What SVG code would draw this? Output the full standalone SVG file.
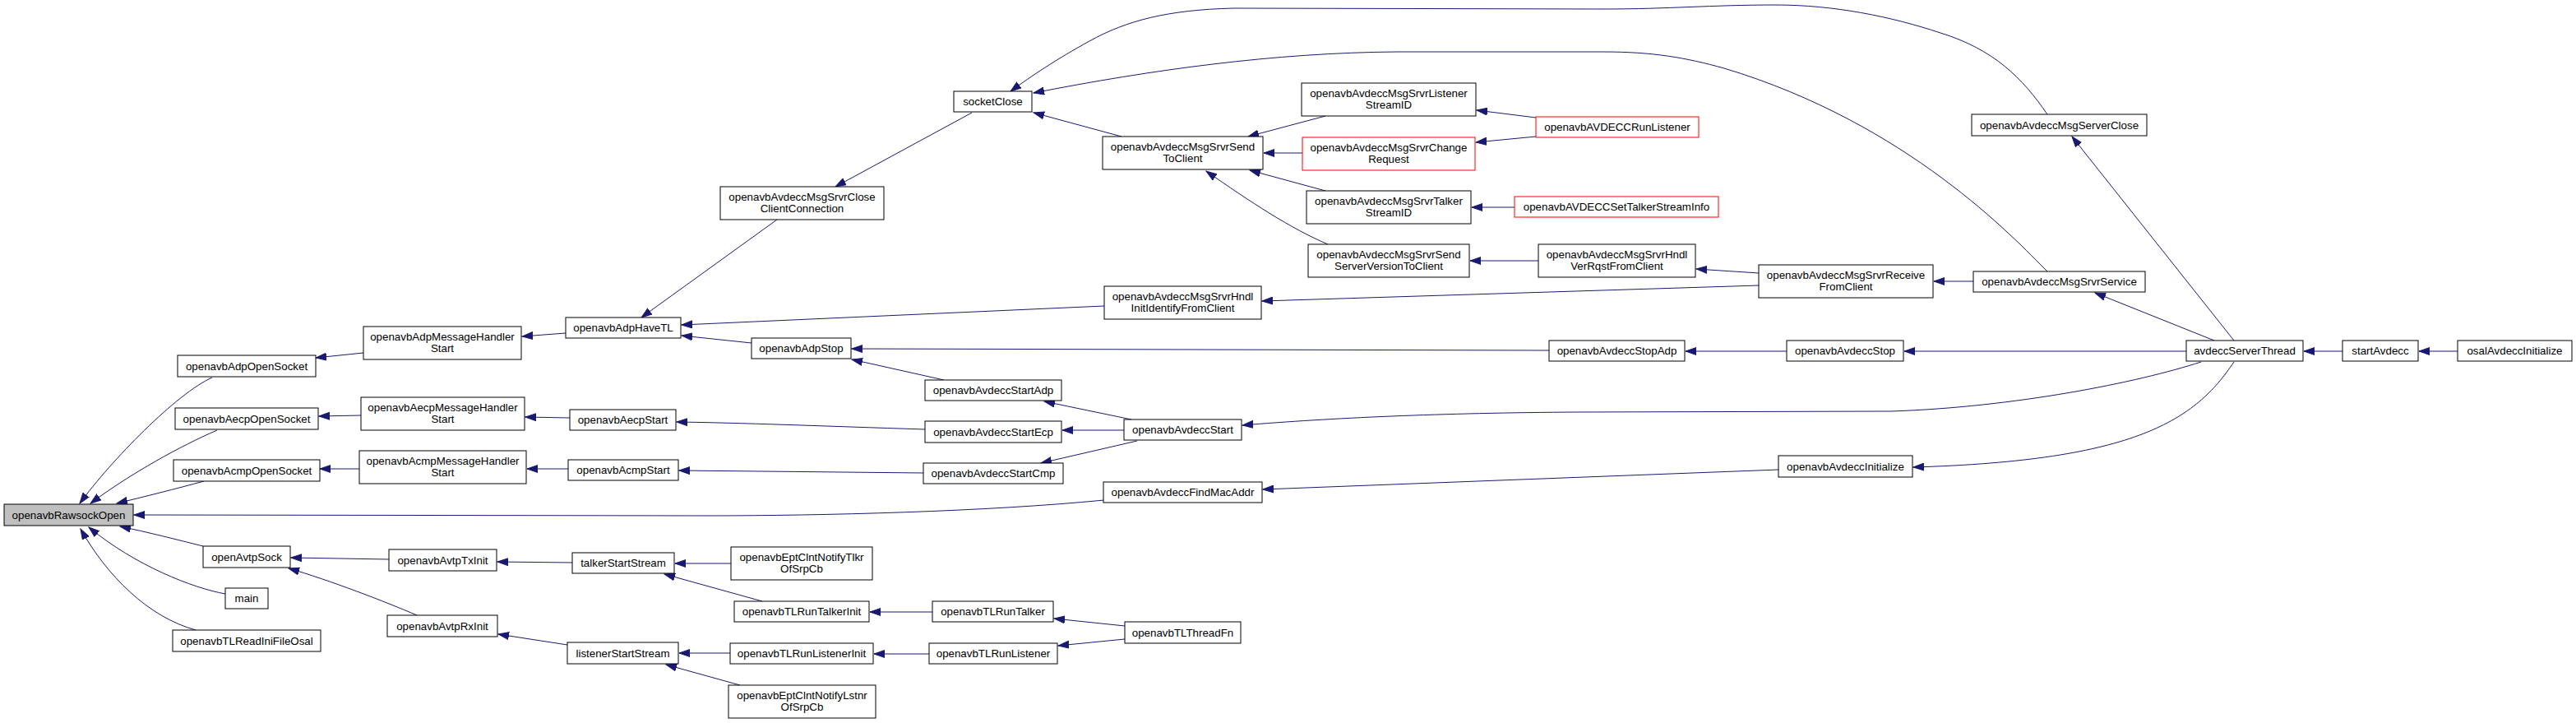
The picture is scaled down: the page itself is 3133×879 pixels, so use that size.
<svg xmlns="http://www.w3.org/2000/svg" width="3133" height="879" viewBox="0 0 3133 879">
<style>
.n rect{fill:#fff;stroke:#000;stroke-width:1}
.n.hl rect{fill:#bfbfbf}
.n.red rect{stroke:#ff0000}
.n text{font-family:"Liberation Sans",Arial,Helvetica,sans-serif;font-size:13.33px;text-anchor:middle;fill:#000}
#edges path{fill:none;stroke:#191970;stroke-width:1;marker-end:url(#a)}
</style>
<defs>
<marker id="a" markerUnits="userSpaceOnUse" markerWidth="14" markerHeight="10" refX="13" refY="5" orient="auto" viewBox="0 0 14 10">
<path d="M0,0.5 L13,5 L0,9.5 z" fill="#191970" stroke="#191970" stroke-width="1"/>
</marker>
</defs>
<rect width="3133" height="879" fill="#fff"/>
<g id="edges">
<path d="M258,459 C215,478 135,560 97,612"/>
<path d="M264,523 C220,542 160,575 110,612"/>
<path d="M248,585 C215,594 175,604 142,612"/>
<path d="M1343,608 C1200,622 1000,627 860,627 L163,626"/>
<path d="M247,664 C215,656 180,647 146,640"/>
<path d="M274,722 C235,715 165,688 108,641"/>
<path d="M238,766 C180,750 130,700 98,643"/>
<path d="M442,429 L384,435"/>
<path d="M439,505 L388,506"/>
<path d="M437,570 L389,570"/>
<path d="M473,680 L354,678"/>
<path d="M507,748 C470,732 400,705 351,691"/>
<path d="M688,405 L635,409"/>
<path d="M693,508 L639,507"/>
<path d="M691,570 L641,570"/>
<path d="M696,684 L605,683"/>
<path d="M690,784 L606,771"/>
<path d="M945,267 L780,386"/>
<path d="M1343,372 L829,395"/>
<path d="M914,417 L829,408"/>
<path d="M1125,522 C1000,518 900,514 823,513"/>
<path d="M1123,575 L826,572"/>
<path d="M889,685 L821,685"/>
<path d="M927,731 L808,698"/>
<path d="M888,794 L826,794"/>
<path d="M900,833 L810,808"/>
<path d="M1182,137 L1016,227"/>
<path d="M1884,426 L1036,424"/>
<path d="M1148,462 L1036,437"/>
<path d="M1376,510 L1270,488"/>
<path d="M1367,523 L1292,523"/>
<path d="M1383,536 L1266,563"/>
<path d="M1134,744 L1058,744"/>
<path d="M1130,795 L1063,795"/>
<path d="M1368,761 L1282,752"/>
<path d="M1368,777 L1287,785"/>
<path d="M1364,166 L1257,137"/>
<path d="M2490,139 C2460,95 2425,60 2360,40 C2300,20 2230,6 2160,6 C2080,6 2030,11 1950,11 L1500,10 C1420,12 1370,25 1325,50 C1285,72 1255,92 1229,111"/>
<path d="M2490,330 C2450,290 2320,150 2097,83 C2050,70 2010,63 1950,63 L1700,63 C1550,64 1400,85 1257,113"/>
<path d="M1612,141 L1518,166"/>
<path d="M1584,186 L1537,186"/>
<path d="M1612,232 L1520,207"/>
<path d="M1615,297 C1570,278 1520,245 1467,208"/>
<path d="M1868,143 L1796,134"/>
<path d="M1868,166 L1795,173"/>
<path d="M1842,252 L1790,252"/>
<path d="M1871,317 L1788,317"/>
<path d="M2139,332 L2063,327"/>
<path d="M2139,347 L1535,366"/>
<path d="M2400,342 L2352,342"/>
<path d="M2173,427 L2050,427"/>
<path d="M2659,427 L2316,427"/>
<path d="M2717,414 L2520,166"/>
<path d="M2693,414 L2548,356"/>
<path d="M2677,440 C2600,465 2450,495 2300,500 L1920,501 C1750,502 1620,508 1511,517"/>
<path d="M2717,440 C2670,510 2600,560 2327,568"/>
<path d="M2163,571 L1536,595"/>
<path d="M2849,427 L2802,427"/>
<path d="M2989,427 L2942,427"/>
</g>
<g id="n1" class="n hl"><rect x="5" y="613" width="157" height="26"/><text x="83.5" y="630.5">openavbRawsockOpen</text></g>
<g id="n2" class="n"><rect x="216" y="432" width="168" height="26"/><text x="300" y="449.5">openavbAdpOpenSocket</text></g>
<g id="n3" class="n"><rect x="213" y="496" width="174" height="26"/><text x="300" y="513.5">openavbAecpOpenSocket</text></g>
<g id="n4" class="n"><rect x="211" y="559" width="178" height="26"/><text x="300" y="576.5">openavbAcmpOpenSocket</text></g>
<g id="n5" class="n"><rect x="247" y="664" width="106" height="26"/><text x="300" y="681.5">openAvtpSock</text></g>
<g id="n6" class="n"><rect x="274" y="715" width="52" height="25"/><text x="300" y="732">main</text></g>
<g id="n7" class="n"><rect x="210" y="766" width="180" height="26"/><text x="300" y="783.5">openavbTLReadIniFileOsal</text></g>
<g id="n8" class="n"><rect x="442" y="397" width="192" height="40"/><text x="538" y="413.5">openavbAdpMessageHandler</text><text x="538" y="428">Start</text></g>
<g id="n9" class="n"><rect x="439" y="483" width="199" height="40"/><text x="538.5" y="499.5">openavbAecpMessageHandler</text><text x="538.5" y="514">Start</text></g>
<g id="n10" class="n"><rect x="437" y="548" width="203" height="40"/><text x="538.5" y="564.5">openavbAcmpMessageHandler</text><text x="538.5" y="579">Start</text></g>
<g id="n11" class="n"><rect x="473" y="668" width="131" height="26"/><text x="538.5" y="685.5">openavbAvtpTxInit</text></g>
<g id="n12" class="n"><rect x="471" y="748" width="134" height="26"/><text x="538" y="765.5">openavbAvtpRxInit</text></g>
<g id="n13" class="n"><rect x="688" y="386" width="140" height="25"/><text x="758" y="403">openavbAdpHaveTL</text></g>
<g id="n14" class="n"><rect x="693" y="498" width="129" height="25"/><text x="757.5" y="515">openavbAecpStart</text></g>
<g id="n15" class="n"><rect x="691" y="559" width="134" height="25"/><text x="758" y="576">openavbAcmpStart</text></g>
<g id="n16" class="n"><rect x="696" y="672" width="124" height="25"/><text x="758" y="689">talkerStartStream</text></g>
<g id="n17" class="n"><rect x="690" y="781" width="135" height="26"/><text x="757.5" y="798.5">listenerStartStream</text></g>
<g id="n18" class="n"><rect x="876" y="227" width="199" height="40"/><text x="975.5" y="243.5">openavbAvdeccMsgSrvrClose</text><text x="975.5" y="258">ClientConnection</text></g>
<g id="n20" class="n"><rect x="914" y="411" width="121" height="25"/><text x="974.5" y="428">openavbAdpStop</text></g>
<g id="n24" class="n"><rect x="889" y="665" width="172" height="40"/><text x="975" y="681.5">openavbEptClntNotifyTlkr</text><text x="975" y="696">OfSrpCb</text></g>
<g id="n25" class="n"><rect x="893" y="731" width="164" height="25"/><text x="975" y="748">openavbTLRunTalkerInit</text></g>
<g id="n26" class="n"><rect x="888" y="782" width="174" height="25"/><text x="975" y="799">openavbTLRunListenerInit</text></g>
<g id="n27" class="n"><rect x="886" y="833" width="179" height="40"/><text x="975.5" y="849.5">openavbEptClntNotifyLstnr</text><text x="975.5" y="864">OfSrpCb</text></g>
<g id="n28" class="n"><rect x="1160" y="111" width="95" height="25"/><text x="1207.5" y="128">socketClose</text></g>
<g id="n21" class="n"><rect x="1125" y="462" width="166" height="25"/><text x="1208" y="479">openavbAvdeccStartAdp</text></g>
<g id="n22" class="n"><rect x="1125" y="512" width="166" height="26"/><text x="1208" y="529.5">openavbAvdeccStartEcp</text></g>
<g id="n23" class="n"><rect x="1123" y="563" width="170" height="25"/><text x="1208" y="580">openavbAvdeccStartCmp</text></g>
<g id="n31" class="n"><rect x="1134" y="731" width="147" height="25"/><text x="1207.5" y="748">openavbTLRunTalker</text></g>
<g id="n32" class="n"><rect x="1130" y="782" width="156" height="25"/><text x="1208" y="799">openavbTLRunListener</text></g>
<g id="n34" class="n"><rect x="1341" y="166" width="195" height="40"/><text x="1438.5" y="182.5">openavbAvdeccMsgSrvrSend</text><text x="1438.5" y="197">ToClient</text></g>
<g id="n19" class="n"><rect x="1343" y="348" width="191" height="40"/><text x="1438.5" y="364.5">openavbAvdeccMsgSrvrHndl</text><text x="1438.5" y="379">InitIdentifyFromClient</text></g>
<g id="n29" class="n"><rect x="1367" y="510" width="143" height="25"/><text x="1438.5" y="527">openavbAvdeccStart</text></g>
<g id="n30" class="n"><rect x="1342" y="586" width="193" height="25"/><text x="1438.5" y="603">openavbAvdeccFindMacAddr</text></g>
<g id="n33" class="n"><rect x="1368" y="756" width="141" height="26"/><text x="1438.5" y="773.5">openavbTLThreadFn</text></g>
<g id="n35" class="n"><rect x="1583" y="101" width="212" height="40"/><text x="1689" y="117.5">openavbAvdeccMsgSrvrListener</text><text x="1689" y="132">StreamID</text></g>
<g id="n36" class="n red"><rect x="1584" y="167" width="210" height="40"/><text x="1689" y="183.5">openavbAvdeccMsgSrvrChange</text><text x="1689" y="198">Request</text></g>
<g id="n37" class="n"><rect x="1589" y="232" width="200" height="40"/><text x="1689" y="248.5">openavbAvdeccMsgSrvrTalker</text><text x="1689" y="263">StreamID</text></g>
<g id="n38" class="n"><rect x="1591" y="297" width="196" height="40"/><text x="1689" y="313.5">openavbAvdeccMsgSrvrSend</text><text x="1689" y="328">ServerVersionToClient</text></g>
<g id="n39" class="n red"><rect x="1868" y="142" width="198" height="25"/><text x="1967" y="159">openavbAVDECCRunListener</text></g>
<g id="n40" class="n red"><rect x="1842" y="239" width="248" height="25"/><text x="1966" y="256">openavbAVDECCSetTalkerStreamInfo</text></g>
<g id="n41" class="n"><rect x="1871" y="297" width="191" height="40"/><text x="1966.5" y="313.5">openavbAvdeccMsgSrvrHndl</text><text x="1966.5" y="328">VerRqstFromClient</text></g>
<g id="n43" class="n"><rect x="1884" y="414" width="165" height="25"/><text x="1966.5" y="431">openavbAvdeccStopAdp</text></g>
<g id="n42" class="n"><rect x="2139" y="322" width="212" height="40"/><text x="2245" y="338.5">openavbAvdeccMsgSrvrReceive</text><text x="2245" y="353">FromClient</text></g>
<g id="n44" class="n"><rect x="2173" y="414" width="142" height="25"/><text x="2244" y="431">openavbAvdeccStop</text></g>
<g id="n45" class="n"><rect x="2163" y="554" width="163" height="26"/><text x="2244.5" y="571.5">openavbAvdeccInitialize</text></g>
<g id="n46" class="n"><rect x="2398" y="139" width="213" height="26"/><text x="2504.5" y="156.5">openavbAvdeccMsgServerClose</text></g>
<g id="n47" class="n"><rect x="2400" y="330" width="209" height="25"/><text x="2504.5" y="347">openavbAvdeccMsgSrvrService</text></g>
<g id="n48" class="n"><rect x="2659" y="414" width="142" height="25"/><text x="2730" y="431">avdeccServerThread</text></g>
<g id="n49" class="n"><rect x="2849" y="414" width="92" height="25"/><text x="2895" y="431">startAvdecc</text></g>
<g id="n50" class="n"><rect x="2989" y="414" width="139" height="25"/><text x="3058.5" y="431">osalAvdeccInitialize</text></g>
</svg>
